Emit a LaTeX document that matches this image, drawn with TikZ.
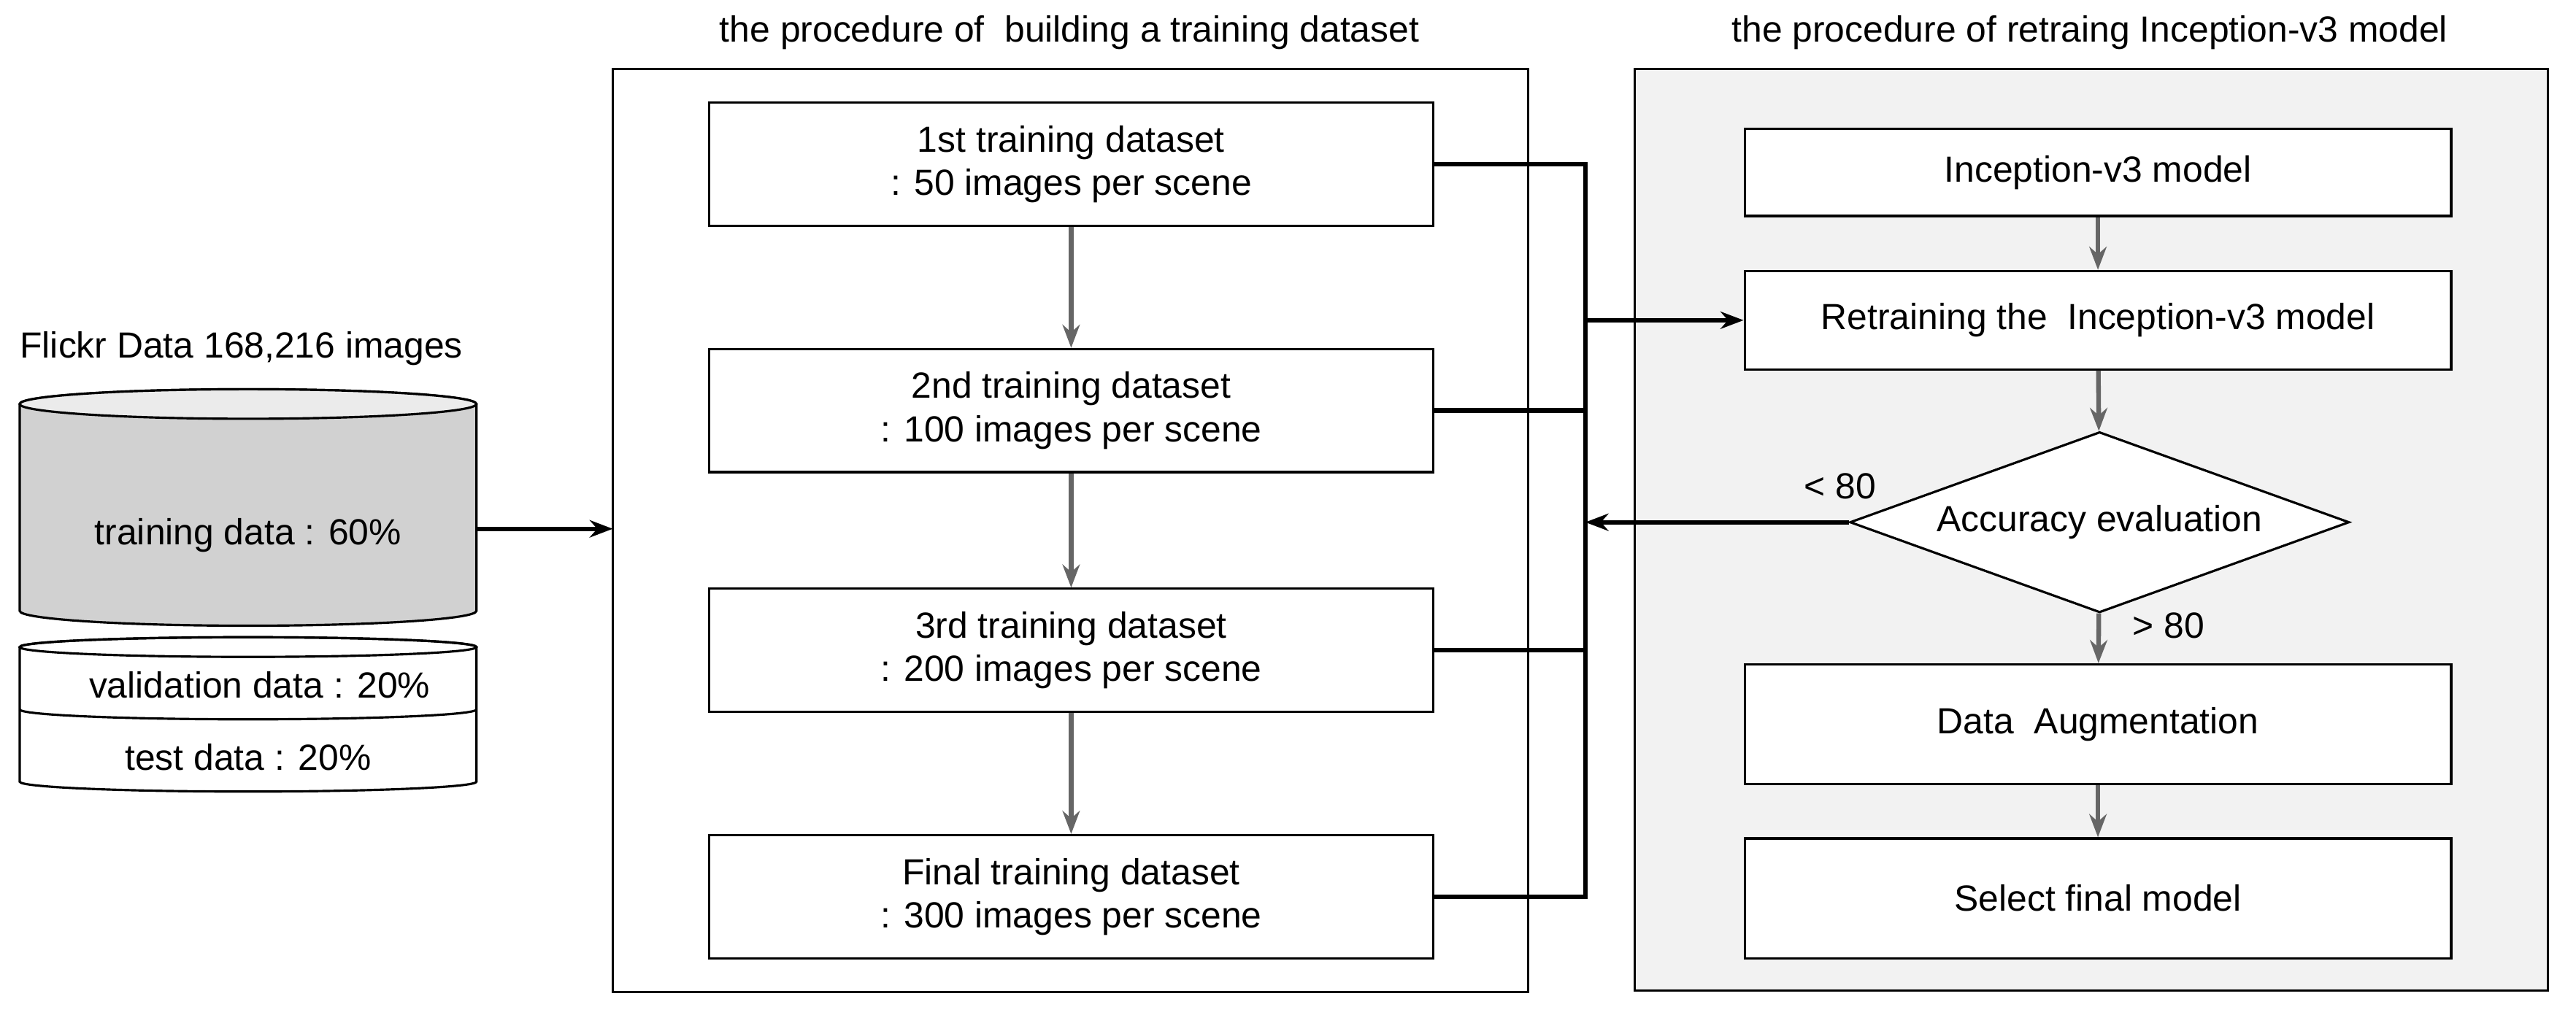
\documentclass[tikz,border=0pt]{standalone}
\usepackage{fontspec}
\setmainfont{Liberation Sans}
\usetikzlibrary{shapes.geometric,arrows.meta}
\begin{document}
\begin{tikzpicture}[x=0.02cm, y=-0.02cm, font=\fontsize{12.6}{15}\selectfont,
	box/.style={rectangle, draw, thick, fill=white, minimum width=441*0.02cm, align=center},
	garrow/.style={-{Stealth[length=8pt,width=6pt]}, line width=1.6pt, draw=black!60},
	barrow/.style={-{Stealth[length=8pt,width=6pt]}, line width=1.6pt},
	bus/.style={line width=1.6pt}]
	\useasboundingbox (0,0) rectangle (1568,618);

	% frames
	\draw[thick] (373,42) rectangle (930,604);
	\draw[thick, fill=black!5] (995,42) rectangle (1551,603);
	\node (title1) at (651,20) {the procedure of \ building a training dataset};
	\node (title2) at (1272,20) {the procedure of retraing Inception-v3 model};

	% data store
	\node[anchor=west] (flickr) at (6,212) {Flickr Data 168,216 images};
	\draw[thick, fill=black!18] (12,246) arc[start angle=180, end angle=360, x radius=139, y radius=9]
		-- (290,372) arc[start angle=0, end angle=180, x radius=139, y radius=9] -- cycle;
	\draw[thick, fill=black!8] (151,246) ellipse[x radius=139, y radius=9];
	\draw[thick, fill=white] (12,394) arc[start angle=180, end angle=360, x radius=139, y radius=6]
		-- (290,476) arc[start angle=0, end angle=180, x radius=139, y radius=6] -- cycle;
	\draw[thick] (151,394) ellipse[x radius=139, y radius=6];
	\draw[thick] (12,432) arc[start angle=180, end angle=0, x radius=139, y radius=6];
	\node (train) at (151,326) {training data : 60\%};
	\node (valid) at (158,417) {validation data : 20\%};
	\node (test) at (151,461) {test data : 20\%};
	\coordinate (store) at (290,322);
	\coordinate (frame) at (373,322);
	\draw[barrow] (store) -- (frame);

	% training datasets
	\node[box, minimum height=75*0.02cm] (d1) at (652,100) {1st training dataset\\: 50 images per scene};
	\node[box, minimum height=75*0.02cm] (d2) at (652,250) {2nd training dataset\\: 100 images per scene};
	\node[box, minimum height=75*0.02cm] (d3) at (652,396) {3rd training dataset\\: 200 images per scene};
	\node[box, minimum height=75*0.02cm] (d4) at (652,546) {Final training dataset\\: 300 images per scene};
	\draw[garrow] (d1) -- (d2);
	\draw[garrow] (d2) -- (d3);
	\draw[garrow] (d3) -- (d4);

	% retraining
	\node[box, minimum width=430*0.02cm, minimum height=53*0.02cm] (incep) at (1277,105) {Inception-v3 model};
	\node[box, minimum width=430*0.02cm, minimum height=60*0.02cm] (retrain) at (1277,195) {Retraining the \ Inception-v3 model};
	\node[diamond, draw, thick, fill=white, aspect=2.75, inner sep=1pt, minimum width=304*0.02cm, minimum height=110*0.02cm] (eval) at (1278,318) {Accuracy evaluation};
	\node[box, minimum width=430*0.02cm, minimum height=73*0.02cm] (aug) at (1277,441) {Data \ Augmentation};
	\node[box, minimum width=430*0.02cm, minimum height=73*0.02cm] (select) at (1277,547) {Select final model};
	\draw[garrow] (incep) -- (retrain);
	\draw[garrow] (retrain) -- (eval);
	\draw[garrow] (eval) -- (aug);
	\draw[garrow] (aug) -- (select);
	\node (lt) at (1120,296) {< 80};
	\node (gt) at (1320,381) {> 80};

	% bus
	\coordinate (bus) at (965,0);
	\draw[bus] (d1.east) -- (d1.east -| bus) -- (d4.east -| bus) -- (d4.east);
	\draw[bus] (d2.east) -- (d2.east -| bus);
	\draw[bus] (d3.east) -- (d3.east -| bus);
	\draw[barrow] (retrain.west -| bus) -- (retrain.west);
	\draw[barrow] (eval.west) -- (eval.west -| bus);
\end{tikzpicture}
\end{document}
